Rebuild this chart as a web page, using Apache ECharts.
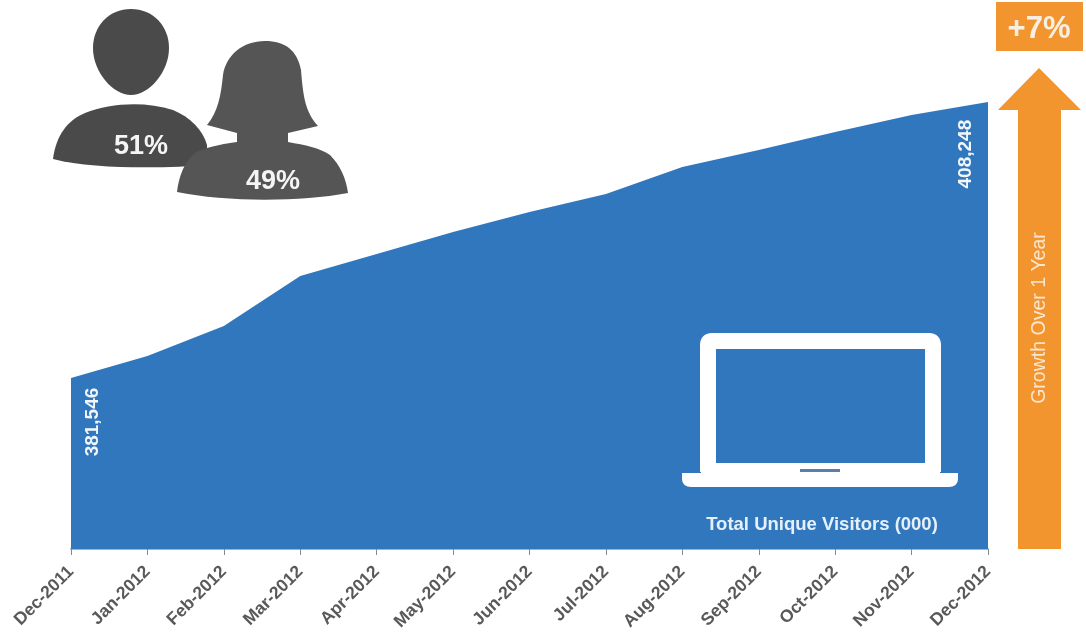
<!DOCTYPE html>
<html>
<head>
<meta charset="utf-8">
<style>html,body{margin:0;padding:0;background:#fff}#c{width:1086px;height:643px}</style>
<script src="https://cdn.jsdelivr.net/npm/echarts@6/dist/echarts.min.js"></script>
</head>
<body>
<div id="c"></div>
<script>
// Monthly unique visitors, in thousands
const months = ['Dec-2011','Jan-2012','Feb-2012','Mar-2012','Apr-2012','May-2012','Jun-2012','Jul-2012','Aug-2012','Sep-2012','Oct-2012','Nov-2012','Dec-2012'];
const visitors = [381546,383672,386574,391412,393540,395668,397603,399345,401957,403602,405343,406988,408248];
const maleShare = '51%';
const femaleShare = '49%';
const growth = '+7%';
const growthCaption = 'Growth Over 1 Year';
const metricCaption = 'Total Unique Visitors (000)';

const FONT = '"Liberation Sans", Arial, sans-serif';
const BLUE = '#3177be';
const ORANGE = '#f2952f';

// Value labels on the first and last months, reading upward
const endLabel = (position) => ({
  show: true, position: position, rotate: 90, color: '#f2f6fb',
  align: 'center', verticalAlign: 'middle',
  fontFamily: FONT, fontSize: 19, fontWeight: 'bold',
  formatter: (p) => p.value.toLocaleString('en-US')
});

const seriesData = visitors.map((v, i) => {
  if (i === 0) return { value: v, label: endLabel([22, 44]) };
  if (i === visitors.length - 1) return { value: v, label: endLabel([-22, 52]) };
  return v;
});

// Pictogram outlines registered as reusable graphic shapes
const outlines = {
  manHead: 'M131 9 C153 9 169 26 169 48 C169 72 149 95 131 95 C113 95 93 72 93 48 C93 26 109 9 131 9 Z',
  manBody: 'M53 159 C56 135 68 120 85 113 C110 103 145 101 173 110 C190 117 203 130 207 145 L207 165 C170 168 95 170 53 159 Z',
  woman: 'M265 41 C285 41 297 50 301 70 C303 95 305 112 318 126 L288 133 L288 142 C305 145 320 148 330 155 C340 165 346 178 348 193 C300 202 225 202 177 192 C179 176 184 162 196 152 C210 146 228 143 237 142 L237 133 L207 125 C218 112 221 95 223 75 C226 55 243 41 265 41 Z',
  laptopLid: 'M712 333 L929 333 C937 333 941 338 941 345 L941 472 L700 472 L700 345 C700 338 704 333 712 333 Z M716 349 L716 463 L925 463 L925 349 Z',
  laptopBase: 'M682 473 L958 473 L958 479 C958 484 954 487 949 487 L691 487 C686 487 682 484 682 479 Z',
  arrow: 'M1039 68 L1081 110 L1061 110 L1061 549 L1018 549 L1018 110 L998 110 Z'
};
Object.keys(outlines).forEach((name) => {
  echarts.graphic.registerShape(name, echarts.graphic.extendPath(outlines[name], {}));
});

const shape = (name, fill) => ({ type: name, z: 100, shape: {}, style: { fill } });

const caption = (x, y, text, size, fill, weight, rotation) => ({
  type: 'text', z: 110, x, y, rotation: rotation || 0,
  style: { text, fill, fontFamily: FONT, fontSize: size, fontWeight: weight, align: 'center', verticalAlign: 'middle' }
});

const chart = echarts.init(document.getElementById('c'), null, { renderer: 'canvas' });
chart.setOption({
  animation: false,
  backgroundColor: '#fff',
  grid: { left: 71, top: 84, width: 917, height: 465, containLabel: false },
  xAxis: {
    type: 'category', data: months, boundaryGap: false,
    axisLine: { lineStyle: { color: '#9db4cc', width: 2 } },
    axisTick: { show: true, length: 6, lineStyle: { color: '#8a8a8a' }, alignWithLabel: true },
    axisLabel: { interval: 0, rotate: 45, margin: 20, color: '#595959', fontFamily: FONT, fontSize: 17.5, fontWeight: 'bold', hideOverlap: false }
  },
  yAxis: { type: 'value', min: 365000, max: 410000, show: false, splitLine: { show: false } },
  series: [{
    type: 'line', data: seriesData, smooth: false,
    symbol: 'circle', symbolSize: 0, showSymbol: true, showAllSymbol: true,
    lineStyle: { width: 0, color: BLUE },
    itemStyle: { color: BLUE },
    areaStyle: { color: BLUE, opacity: 1 },
    label: { show: false },
    labelLayout: { hideOverlap: false }
  }],
  graphic: { elements: [
    shape('manHead', '#4a4a4a'),
    shape('manBody', '#4a4a4a'),
    shape('woman', '#555555'),
    caption(141, 147, maleShare, 27, '#f5f5f5', 'bold'),
    caption(273, 182, femaleShare, 27, '#f5f5f5', 'bold'),
    // Laptop outline and its base
    shape('laptopLid', '#ffffff'),
    shape('laptopBase', '#ffffff'),
    { type: 'rect', z: 100, shape: { x: 701, y: 463, width: 239, height: 11 }, style: { fill: '#ffffff' } },
    { type: 'rect', z: 101, shape: { x: 800, y: 469, width: 40, height: 3 }, style: { fill: '#5a7fae' } },
    caption(822, 525, metricCaption, 18.5, '#e6f0fa', 'bold'),
    // Growth arrow with its badge
    shape('arrow', ORANGE),
    { type: 'rect', z: 100, shape: { x: 996, y: 2, width: 87, height: 49 }, style: { fill: ORANGE } },
    caption(1039, 29, growth, 31, '#f8efe4', 'bold'),
    caption(1040, 318, growthCaption, 19.5, '#fbe6cd', 'normal', Math.PI / 2)
  ] }
});
</script>
</body>
</html>
